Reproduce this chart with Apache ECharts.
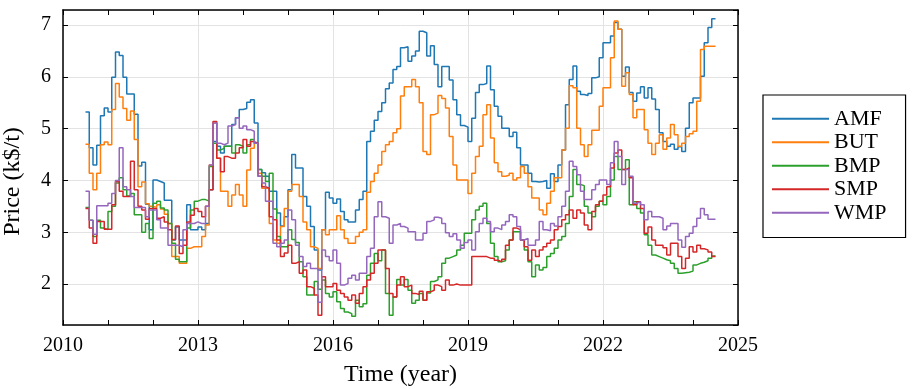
<!DOCTYPE html>
<html>
<head>
<meta charset="utf-8">
<script src="https://cdn.jsdelivr.net/npm/echarts@6/dist/echarts.min.js"></script>
<style>
html, body { margin: 0; padding: 0; background: #fff; }
#chart { width: 917px; height: 389px; }
</style>
</head>
<body>
<div id="chart"></div>
<script>
// monthly samples, first one is July 2010
var firstMonth = 2010.5;
var seriesNames = ['AMF', 'BUT', 'BMP', 'SMP', 'WMP'];
var seriesColors = ['#1f77b4', '#ff7f0e', '#2ca02c', '#d62728', '#9467bd'];
var xTicks = [2010, 2013, 2016, 2019, 2022, 2025];

var amf = [
    5.32, 4.63, 4.30, 4.68, 5.25, 5.40, 5.32, 5.99, 6.48, 6.41, 5.99, 5.67, 5.67, 5.28, 4.28, 4.35, 3.54, 3.05, 4.01, 3.98,
    3.95, 3.62, 3.62, 2.85, 3.10, 2.85, 2.85, 3.53, 3.05, 3.05,
    3.10, 3.05, 3.17, 3.82, 4.75, 4.66, 4.53, 4.66, 4.66, 5.08, 5.21, 5.37, 5.39, 5.51, 5.56, 5.11, 4.21, 4.15, 4.08, 3.79,
    3.79, 3.37, 3.12, 3.30, 3.82, 4.50, 4.24, 4.24, 3.69, 3.50, 3.11, 2.66, 2.27, 3.05, 3.77, 3.66,
    3.56, 3.64, 3.40, 3.24, 3.20, 3.20, 3.43, 3.63, 3.79, 4.75, 4.95, 5.16, 5.33, 5.50, 5.77, 5.88, 6.14, 6.20, 6.56, 6.58,
    6.30, 6.40, 6.50, 6.88, 6.85, 6.40, 6.60, 6.24, 5.81, 6.20, 6.20, 5.94, 5.56, 5.27, 5.06, 5.03,
    4.75, 5.20, 5.70, 5.85, 5.87, 6.21, 5.75, 5.43, 5.24, 5.01, 5.01, 4.85, 4.93, 4.63, 4.30, 4.30, 4.14, 3.98, 3.97, 3.98,
    4.00, 3.85, 4.13, 3.98, 4.30, 4.59, 5.46, 5.95, 6.21, 5.72, 5.66, 5.64, 5.68, 5.98, 6.00, 6.37,
    6.66, 6.66, 6.79, 7.05, 6.92, 6.01, 6.19, 5.70, 5.53, 5.69, 5.81, 5.59, 5.79, 5.57, 5.37, 4.92, 4.75, 4.66, 4.70, 4.60,
    4.65, 4.56, 5.01, 5.50, 5.59, 5.59, 6.01, 6.66, 6.95, 7.12, 7.12
];
var but = [
    4.70, 4.14, 3.82, 4.14, 4.69, 4.74, 4.69, 5.37, 5.87, 5.61, 5.39, 5.16, 5.34, 4.79, 3.88, 3.97, 3.55, 3.50, 3.48, 3.53,
    3.45, 3.35, 3.17, 2.53, 2.53, 2.40, 2.40, 2.69, 2.72, 2.72,
    2.72, 2.92, 3.14, 4.30, 5.11, 4.43, 3.79, 3.79, 3.50, 3.72, 3.92, 3.72, 3.50, 4.20, 4.62, 4.72, 4.14, 3.85, 3.85, 3.17,
    2.85, 2.79, 3.11, 3.46, 3.79, 3.92, 3.92, 3.69, 3.20, 3.05, 2.72, 2.69, 2.30, 3.05, 2.95, 3.05,
    3.05, 3.32, 3.05, 2.88, 2.79, 2.79, 2.92, 3.00, 3.05, 3.77, 3.98, 4.14, 4.30, 4.56, 4.69, 4.75, 4.92, 5.00, 5.63, 5.81,
    5.81, 5.95, 5.81, 5.50, 4.56, 4.50, 5.27, 5.30, 5.64, 5.58, 5.40, 4.85, 4.30, 4.01, 4.01, 4.01,
    3.75, 4.14, 4.46, 4.66, 5.27, 5.46, 4.82, 4.34, 4.17, 4.08, 4.10, 4.14, 4.01, 4.05, 4.27, 4.14, 3.88, 3.66, 3.66, 3.43,
    3.34, 3.56, 3.79, 4.05, 4.05, 4.59, 5.01, 5.83, 5.79, 5.01, 4.69, 4.46, 4.69, 4.97, 4.97, 5.43,
    5.79, 5.79, 6.37, 7.08, 6.92, 5.82, 6.08, 5.66, 5.21, 5.37, 5.37, 4.98, 4.72, 4.50, 4.72, 4.88, 4.60, 4.82, 5.08, 4.88,
    4.66, 4.72, 4.85, 4.90, 4.95, 5.53, 6.53, 6.59, 6.59, 6.59, 6.59
];
var bmp = [
    3.48, 3.23, 2.92, 3.23, 3.08, 3.05, 3.40, 3.50, 3.95, 4.05, 3.82, 3.70, 3.75, 3.34, 3.34, 3.00, 3.17, 2.88, 3.56, 3.60,
    3.47, 3.43, 3.17, 2.79, 2.48, 2.43, 2.43, 3.08, 3.43, 3.60,
    3.63, 3.63, 3.60, 4.27, 4.72, 4.59, 4.62, 4.66, 4.66, 4.53, 4.69, 4.66, 4.53, 4.69, 4.79, 4.72, 4.21, 4.08, 3.98, 4.14,
    3.45, 2.92, 2.72, 2.72, 3.05, 2.86, 2.80, 2.43, 2.14, 1.79, 1.79, 2.05, 1.90, 2.08, 1.82, 1.75,
    1.85, 1.66, 1.53, 1.46, 1.43, 1.38, 1.69, 1.56, 1.62, 2.17, 2.40, 2.59, 2.45, 2.66, 1.82, 1.40, 1.75, 2.09, 1.98, 2.09,
    1.88, 1.63, 1.69, 1.82, 1.69, 1.83, 2.05, 2.08, 2.14, 2.40, 2.50, 2.53, 2.56, 2.66, 2.75, 2.98,
    2.98, 3.24, 3.43, 3.50, 3.56, 3.17, 2.79, 2.53, 2.43, 2.45, 2.66, 2.85, 3.01, 3.01, 2.85, 2.66, 2.43, 2.14, 2.37, 2.27,
    2.32, 2.53, 2.59, 2.69, 2.85, 2.92, 3.17, 3.69, 4.21, 3.92, 3.90, 3.50, 3.37, 3.30, 3.50, 3.60,
    3.53, 3.69, 4.01, 4.46, 4.21, 4.21, 4.40, 3.53, 3.59, 3.46, 3.37, 2.95, 2.75, 2.56, 2.53, 2.50, 2.47, 2.45, 2.40, 2.30,
    2.21, 2.22, 2.23, 2.25, 2.37, 2.40, 2.42, 2.45, 2.50, 2.54, 2.54
];
var smp = [
    3.46, 3.08, 2.79, 3.21, 3.21, 3.06, 3.06, 3.53, 3.98, 3.79, 3.69, 3.69, 4.37, 3.82, 3.50, 3.43, 3.25, 3.46, 3.46, 3.27,
    3.30, 3.20, 3.05, 2.86, 3.12, 2.59, 2.75, 3.20, 3.33, 3.46,
    3.40, 3.30, 3.50, 3.82, 5.14, 4.43, 4.17, 4.46, 4.43, 4.43, 4.53, 4.63, 4.79, 4.66, 4.75, 4.72, 4.08, 3.88, 3.85, 3.30,
    3.24, 2.85, 2.53, 2.60, 2.75, 2.40, 2.43, 2.21, 2.27, 1.95, 1.92, 1.79, 1.40, 2.14, 1.95, 1.95,
    2.01, 1.88, 1.82, 1.75, 1.69, 1.79, 1.63, 1.82, 1.95, 2.08, 2.21, 2.40, 2.66, 2.66, 2.30, 1.82, 1.75, 1.98, 2.14, 1.95,
    1.98, 1.82, 1.80, 1.86, 1.69, 1.85, 1.88, 1.98, 1.95, 1.88, 2.08, 1.98, 2.00, 1.98, 1.98, 1.98,
    1.98, 2.53, 2.53, 2.53, 2.53, 2.50, 2.50, 2.46, 2.43, 2.48, 2.75, 2.85, 3.08, 3.05, 2.85, 2.72, 2.46, 2.66, 2.53, 2.66,
    2.72, 2.79, 2.85, 3.05, 3.11, 3.24, 3.34, 3.43, 3.27, 3.43, 3.37, 3.14, 3.05, 3.40, 3.53, 3.60,
    3.72, 3.88, 4.24, 4.53, 4.59, 4.21, 4.24, 4.05, 3.53, 3.59, 3.46, 2.98, 3.10, 2.85, 2.75, 2.75, 2.70, 2.56, 2.79, 2.79,
    2.53, 2.30, 2.50, 2.72, 2.62, 2.75, 2.68, 2.66, 2.62, 2.53, 2.53
];
var wmp = [
    3.79, 3.23, 2.96, 3.51, 3.51, 3.51, 3.56, 3.75, 4.00, 4.63, 3.88, 3.82, 3.69, 3.48, 3.48, 3.48, 3.30, 3.43, 3.43, 3.24,
    3.08, 3.08, 2.75, 2.75, 2.75, 2.72, 3.05, 3.17, 3.17, 3.20,
    3.17, 3.17, 3.50, 4.30, 5.11, 4.72, 4.69, 4.72, 5.05, 5.08, 5.21, 5.01, 5.05, 4.98, 4.95, 4.72, 4.08, 3.95, 3.60, 3.60,
    2.79, 2.72, 2.79, 2.85, 3.43, 3.24, 2.75, 2.53, 2.34, 2.40, 2.30, 2.30, 1.65, 2.66, 2.53, 2.45,
    2.66, 2.40, 1.98, 2.01, 2.11, 2.17, 2.08, 2.21, 2.21, 2.53, 2.69, 3.30, 3.59, 3.30, 3.27, 2.79, 3.14, 3.17, 3.11, 3.08,
    3.01, 3.01, 2.85, 2.85, 2.98, 3.21, 3.24, 3.29, 3.27, 3.17, 2.99, 2.92, 2.97, 2.85, 2.69, 2.80,
    2.85, 2.66, 3.01, 3.17, 3.27, 3.21, 3.01, 3.08, 3.05, 3.14, 3.21, 3.34, 3.30, 3.11, 2.85, 2.88, 2.75, 2.75, 2.85, 3.21,
    3.05, 3.03, 3.17, 3.12, 3.30, 3.50, 3.79, 4.37, 4.27, 4.11, 3.79, 3.63, 3.63, 3.82, 3.92, 4.01,
    4.01, 3.92, 4.34, 4.75, 4.46, 3.92, 4.21, 4.08, 3.56, 3.59, 3.53, 3.24, 3.40, 3.30, 3.30, 3.27, 3.05, 3.12, 3.17, 3.17,
    2.85, 2.71, 2.92, 2.98, 3.11, 3.27, 3.46, 3.34, 3.25, 3.25, 3.25
];

var allValues = [amf, but, bmp, smp, wmp];
var fontFamily = 'Liberation Serif';

function toPairs(values) {
    return values.map(function (v, i) { return [firstMonth + i / 12, v]; });
}

var chart = echarts.init(document.getElementById('chart'), null, { renderer: 'canvas' });

var frameLine = { show: true, onZero: false, lineStyle: { color: '#000', width: 1.5 } };
var gridLine = { show: true, lineStyle: { color: '#e3e3e3', width: 1 } };

var option = {
    animation: false,
    backgroundColor: '#fff',
    textStyle: { fontFamily: fontFamily },
    grid: { left: 63, right: 179, top: 10, bottom: 64, outerBoundsMode: 'none', containLabel: false },
    legend: {
        orient: 'vertical',
        left: 763,
        top: 95,
        data: seriesNames,
        icon: 'rect',
        itemWidth: 57,
        itemHeight: 2,
        itemGap: 0,
        itemTextGap: 9,
        padding: [12, 19, 13, 9],
        borderColor: '#000',
        borderWidth: 1.2,
        backgroundColor: '#fff',
        textStyle: { fontFamily: fontFamily, fontSize: 22, color: '#000', lineHeight: 23.5 }
    },
    xAxis: [
        {
            type: 'value', min: 2010, max: 2025, interval: 3, position: 'bottom',
            name: 'Time (year)', nameLocation: 'middle', nameGap: 38,
            nameTextStyle: { fontFamily: fontFamily, fontSize: 24, color: '#000' },
            axisLine: frameLine,
            axisTick: { show: true, inside: true, length: 5, lineStyle: { color: '#000', width: 1 } },
            minorTick: { show: true, splitNumber: 3, length: 5, lineStyle: { color: '#000', width: 1 } },
            axisLabel: { margin: 11, fontSize: 20, color: '#000', fontFamily: fontFamily,
                customValues: xTicks, formatter: function (v) { return String(v); } },
            splitLine: gridLine
        },
        {
            type: 'value', min: 2010, max: 2025, interval: 3, position: 'top',
            axisLine: frameLine,
            axisTick: { show: true, inside: true, length: 5, lineStyle: { color: '#000', width: 1 } },
            minorTick: { show: true, splitNumber: 3, length: 5, lineStyle: { color: '#000', width: 1 } },
            axisLabel: { show: false },
            splitLine: { show: false }
        }
    ],
    yAxis: [
        {
            type: 'value', min: 1.21, max: 7.29, position: 'left',
            name: 'Price (k$/t)', nameLocation: 'middle', nameGap: 38,
            nameTextStyle: { fontFamily: fontFamily, fontSize: 24, color: '#000', padding: [0, 28, 0, 0] },
            axisLine: frameLine,
            axisTick: { show: true, inside: true, length: 5, lineStyle: { color: '#000', width: 1 } },
            axisLabel: { margin: 12, fontSize: 20, color: '#000', fontFamily: fontFamily,
                showMinLabel: false, showMaxLabel: false },
            splitLine: gridLine
        },
        {
            type: 'value', min: 1.21, max: 7.29, position: 'right',
            axisLine: frameLine,
            axisTick: { show: true, inside: true, length: 5, lineStyle: { color: '#000', width: 1 } },
            axisLabel: { show: false },
            splitLine: { show: false }
        }
    ],
    series: seriesNames.map(function (name, k) {
        return {
            name: name,
            type: 'line',
            step: 'end',
            xAxisIndex: 0,
            yAxisIndex: 0,
            showSymbol: false,
            symbol: 'none',
            color: seriesColors[k],
            lineStyle: { width: 1.5, color: seriesColors[k] },
            data: toPairs(allValues[k])
        };
    })
};

chart.setOption(option);
</script>
</body>
</html>
